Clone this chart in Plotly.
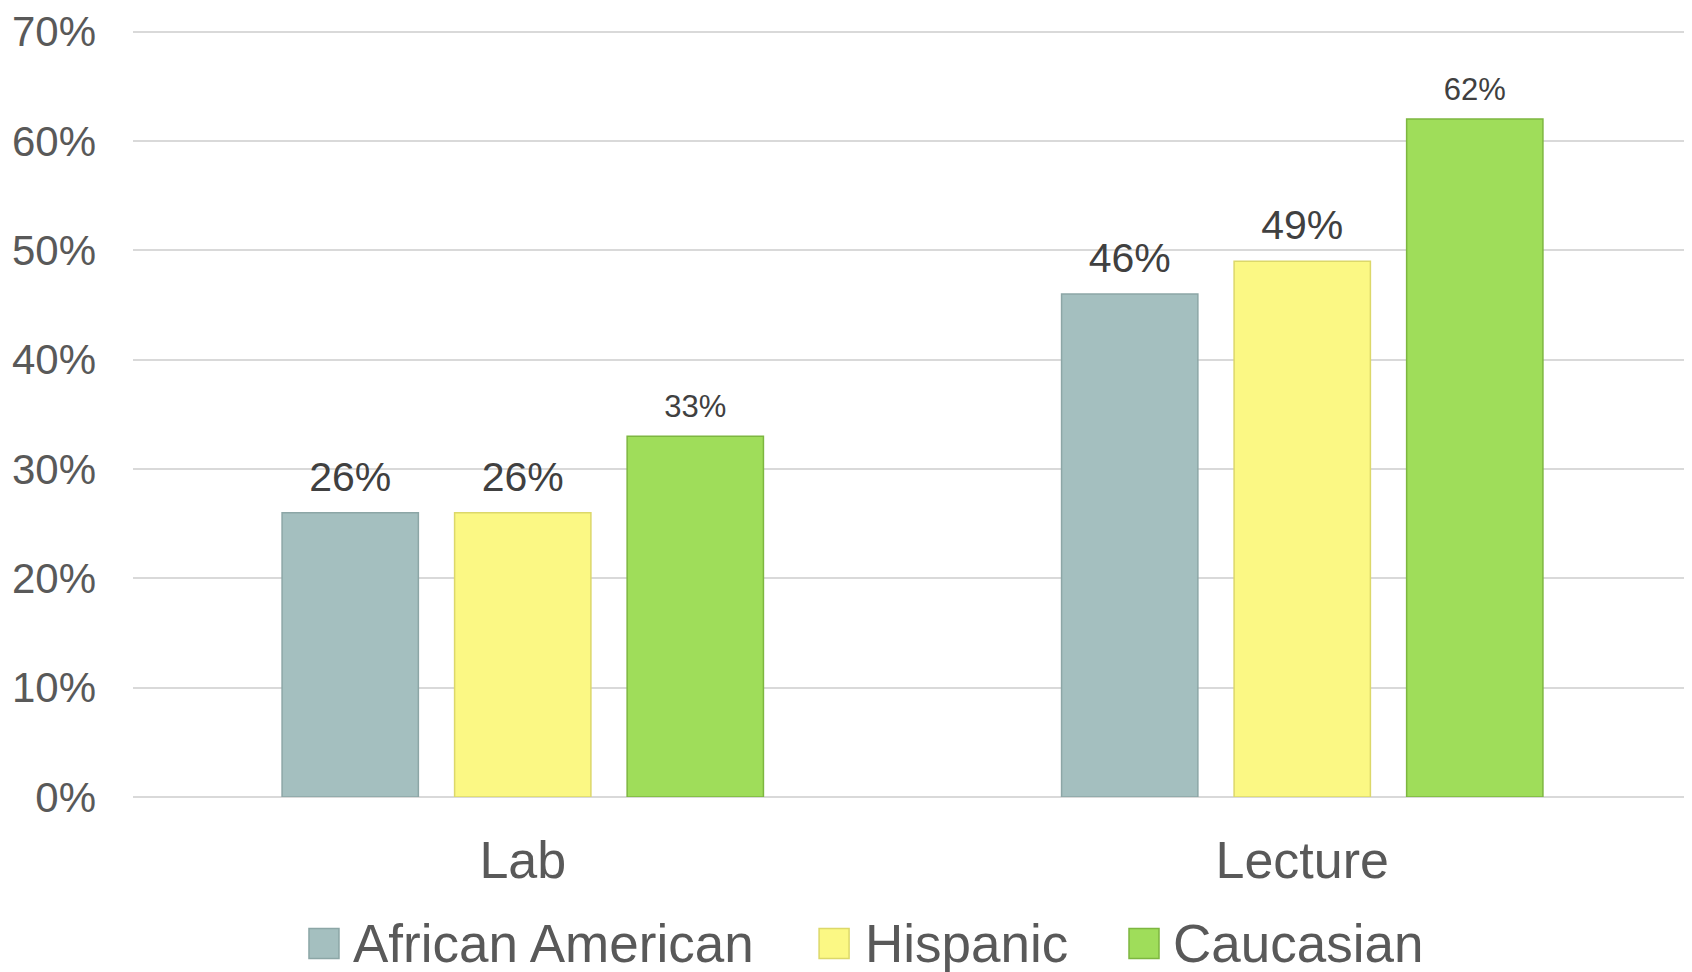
import plotly.graph_objects as go

categories = ["Lab", "Lecture"]
series_names = ["African American", "Hispanic", "Caucasian"]
african_american = [26, 46]
hispanic = [26, 49]
caucasian = [33, 62]
y_ticks = [0, 10, 20, 30, 40, 50, 60, 70]

colors = ["#A4BFBF", "#FBF884", "#9FDD5A"]
edge_colors = ["#8CA6A6", "#DCD86A", "#7DB640"]
label_sizes = [[41, 41], [41, 41], [31, 31]]

FONT = "Liberation Sans, Arial, sans-serif"

fig = go.Figure()
for i, (name, vals, col, edge) in enumerate(zip(series_names,
                                                [african_american, hispanic, caucasian],
                                                colors, edge_colors)):
    fig.add_trace(go.Bar(
        name=name, x=categories, y=vals, offsetgroup=str(i),
        marker=dict(color=col, line=dict(color=edge, width=1.5)),
        showlegend=False,
    ))
for i, (vals, sizes) in enumerate(zip([african_american, hispanic, caucasian], label_sizes)):
    fig.add_trace(go.Scatter(
        x=categories, y=vals, mode="markers+text", offsetgroup=str(i),
        marker=dict(size=17, color="rgba(0,0,0,0)"),
        text=[f"{v}%" for v in vals], textposition="top center",
        textfont=dict(family=FONT, size=sizes, color="#404040"),
        showlegend=False, hoverinfo="skip", cliponaxis=False,
    ))

# custom legend (large square swatches like the original)
legend_x_marker = [0.1225, 0.4497, 0.6485]
legend_x_text = [0.1398, 0.4683, 0.6658]
legend_y = -0.191
for name, col, edge, xm, xt in zip(series_names, colors, edge_colors, legend_x_marker, legend_x_text):
    fig.add_shape(type="rect", xref="paper", yref="paper", xsizemode="pixel", ysizemode="pixel",
                  xanchor=xm, yanchor=legend_y, x0=-15, x1=15, y0=-15, y1=15,
                  fillcolor=col, line=dict(color=edge, width=1.5))
    fig.add_annotation(text=name, xref="paper", yref="paper", x=xt, y=legend_y,
                       xanchor="left", yanchor="middle", showarrow=False,
                       font=dict(family=FONT, size=53, color="#595959"))

fig.update_layout(
    width=1684, height=964,
    margin=dict(l=125, r=0, t=19, b=175),
    paper_bgcolor="white", plot_bgcolor="white",
    barmode="group", bargap=0.336, bargroupgap=0.21,
    scattermode="group", scattergap=0.336,
    font=dict(family=FONT, color="#595959"),
    showlegend=False,
    xaxis=dict(showgrid=False, showline=False, ticks="", tickfont=dict(size=52, color="#595959"),
               ticklabelstandoff=28),
    yaxis=dict(range=[0, 70.15], tickvals=y_ticks, ticktext=[f"{v}%" for v in y_ticks],
               showgrid=True, gridcolor="#D9D9D9", gridwidth=2, zeroline=True,
               zerolinecolor="#D9D9D9", zerolinewidth=2, showline=False, ticks="",
               tickfont=dict(size=42, color="#595959"), ticklabelstandoff=36,
               ticklabeloverflow="allow"),
)

fig.write_html("out.html")
